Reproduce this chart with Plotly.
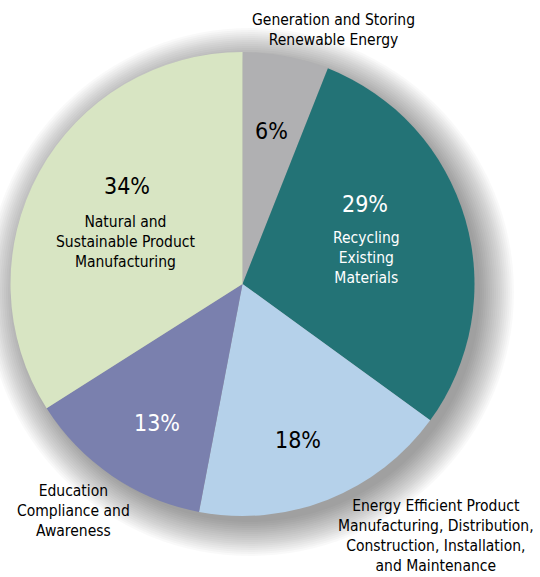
import plotly.graph_objects as go

# Green-economy job categories, clockwise from 12 o'clock
categories = [
    "Generation and Storing Renewable Energy",
    "Recycling Existing Materials",
    "Energy Efficient Product Manufacturing, Distribution, Construction, Installation, and Maintenance",
    "Education Compliance and Awareness",
    "Natural and Sustainable Product Manufacturing",
]
shares = [6, 29, 18, 13, 34]
colors = ["#B0B0B2", "#237376", "#B5D1EA", "#7A80AE", "#D8E5C3"]

W, H = 540, 577
CX, CY, R = 242.5, 284.0, 232.0
FONT = "DejaVu Sans Condensed, Liberation Sans, Arial, sans-serif"


def px(x):
    return x / W


def py(y):
    return 1 - y / H


fig = go.Figure(
    go.Pie(
        labels=categories,
        values=shares,
        marker=dict(colors=colors, line=dict(width=0)),
        sort=False,
        direction="clockwise",
        rotation=0,
        textinfo="none",
        hoverinfo="label+percent",
        showlegend=False,
        domain=dict(x=[px(CX - R), px(CX + R)], y=[py(CY + R), py(CY - R)]),
    )
)

# soft drop shadow behind the pie
shapes = []
SX, SY = 250.0, 292.0
for r in range(230, 266, 2):
    shapes.append(dict(
        type="circle", xref="paper", yref="paper",
        x0=px(SX - r), x1=px(SX + r), y0=py(SY + r), y1=py(SY - r),
        fillcolor="rgba(0,0,0,0.025)", line=dict(width=0), layer="below",
    ))

# percentage labels (positions per slice) and category captions
pct_pos = [(271, 131, "black"), (365, 204, "white"), (298, 440, "black"),
           (157, 423, "white"), (127, 186, "black")]
annotations = []
for v, (x, y, c) in zip(shares, pct_pos):
    annotations.append(dict(
        x=px(x), y=py(y), xref="paper", yref="paper", showarrow=False,
        text=f"{v}%", font=dict(family=FONT, size=23, color=c),
        xanchor="center", yanchor="middle",
    ))

captions = [
    ("Generation and Storing<br>Renewable Energy", 333, 30, "black"),
    ("Recycling<br>Existing<br>Materials", 366, 258, "white"),
    ("Energy Efficient Product<br>Manufacturing, Distribution,<br>"
     "Construction, Installation,<br>and Maintenance", 436, 536, "black"),
    ("Education<br>Compliance and<br>Awareness", 73, 511, "black"),
    ("Natural and<br>Sustainable Product<br>Manufacturing", 125, 242, "black"),
]
for txt, x, y, c in captions:
    annotations.append(dict(
        x=px(x), y=py(y), xref="paper", yref="paper", showarrow=False,
        text=txt, font=dict(family=FONT, size=15.5, color=c),
        xanchor="center", yanchor="middle", align="center",
    ))

fig.update_layout(
    width=W, height=H,
    margin=dict(l=0, r=0, t=0, b=0),
    paper_bgcolor="white", plot_bgcolor="white",
    shapes=shapes, annotations=annotations,
)

fig.write_html("out.html")
